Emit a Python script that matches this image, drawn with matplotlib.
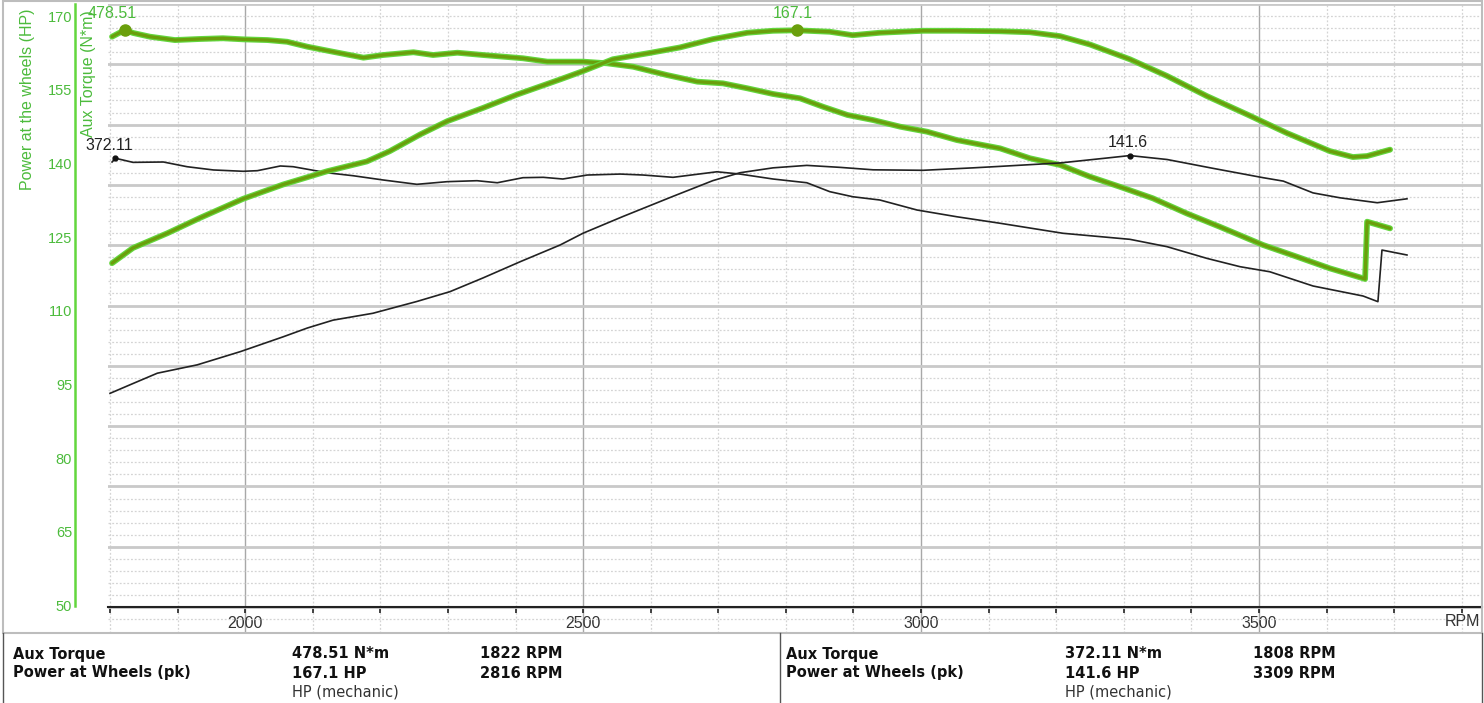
import numpy as np
import matplotlib
matplotlib.use("Agg")
import matplotlib.pyplot as plt
from matplotlib.lines import Line2D
from matplotlib.patches import Rectangle

# Run A (green): aux torque in N*m and power at wheels in HP, against RPM
rpm_tq_a = [1803, 1822, 1834, 1859, 1896, 1933, 1967, 1997, 2033, 2062, 2092, 2130,
            2175, 2204, 2249, 2278, 2314, 2352, 2411, 2447, 2500, 2536, 2574, 2624,
            2669, 2707, 2743, 2781, 2821, 2855, 2891, 2929, 2969, 3009, 3053, 3117,
            3161, 3206, 3250, 3294, 3343, 3393, 3442, 3506, 3556, 3605, 3654, 3657,
            3660, 3694]
tq_a = [472.9, 478.51, 476.0, 472.9, 470.1, 471.0, 471.6, 470.7, 470.1, 468.7, 464.6, 460.4,
        455.5, 457.7, 460.0, 457.7, 459.6, 457.7, 455.0, 452.2, 452.2, 450.8, 448.0, 441.1,
        435.6, 434.2, 430.1, 425.4, 421.8, 414.8, 408.0, 403.8, 398.3, 394.1, 387.2, 380.3,
        372.1, 366.5, 356.8, 348.5, 338.9, 326.4, 315.3, 300.2, 290.5, 280.8, 272.6, 272.0,
        319.5, 314.0]

rpm_hp_a = [1803, 1834, 1885, 1933, 1997, 2056, 2121, 2180, 2214, 2259, 2299, 2352,
            2402, 2466, 2500, 2544, 2599, 2643, 2692, 2743, 2781, 2816, 2865, 2899,
            2939, 3003, 3053, 3117, 3161, 3206, 3250, 3309, 3364, 3423, 3482, 3541,
            3605, 3639, 3660, 3694]
hp_a = [119.7, 122.8, 125.8, 128.9, 132.8, 135.7, 138.4, 140.4, 142.5, 145.9, 148.6, 151.3,
        154.0, 157.1, 158.8, 161.2, 162.5, 163.6, 165.3, 166.6, 167.0, 167.1, 166.8, 166.1,
        166.6, 167.0, 167.0, 166.9, 166.7, 165.9, 164.2, 161.2, 157.8, 153.7, 150.0, 146.2,
        142.5, 141.3, 141.5, 142.8]

# Run B (black)
rpm_tq_b = [1803, 1808, 1834, 1879, 1914, 1953, 1997, 2018, 2052, 2071, 2121, 2160,
            2204, 2254, 2299, 2343, 2373, 2411, 2441, 2470, 2506, 2555, 2589, 2633,
            2698, 2732, 2781, 2831, 2865, 2899, 2939, 2994, 3053, 3117, 3210, 3309,
            3364, 3423, 3472, 3516, 3580, 3654, 3676, 3682, 3719]
tq_b = [369.0, 372.11, 368.7, 369.0, 365.1, 362.4, 361.3, 361.8, 365.7, 365.1, 360.1, 357.6,
        354.1, 350.5, 352.7, 353.5, 351.8, 356.0, 356.3, 354.9, 358.2, 359.0, 358.2, 356.3,
        360.9, 359.0, 354.9, 351.8, 344.4, 340.2, 337.5, 329.2, 323.6, 318.2, 309.9, 304.9,
        298.8, 289.1, 282.2, 278.0, 266.2, 257.9, 253.2, 296.0, 291.9]

rpm_hp_b = [1800, 1834, 1870, 1929, 1993, 2056, 2092, 2130, 2189, 2254, 2303, 2352,
            2407, 2466, 2500, 2559, 2633, 2692, 2732, 2781, 2831, 2880, 2929, 3003,
            3077, 3117, 3206, 3275, 3309, 3364, 3432, 3506, 3536, 3580, 3620, 3675,
            3719]
hp_b = [93.2, 95.2, 97.3, 99.0, 101.7, 104.7, 106.5, 108.1, 109.5, 111.9, 113.9, 116.7,
        120.0, 123.4, 125.8, 129.2, 133.3, 136.5, 138.1, 139.1, 139.6, 139.2, 138.7, 138.6,
        139.1, 139.4, 140.1, 141.1, 141.6, 140.8, 139.0, 137.1, 136.4, 134.0, 133.0, 132.0,
        132.8]

# peak readouts (table below the chart)
peak_tq_a, peak_tq_a_rpm = 478.51, 1822
peak_hp_a, peak_hp_a_rpm = 167.1, 2816
peak_tq_b, peak_tq_b_rpm = 372.11, 1808
peak_hp_b, peak_hp_b_rpm = 141.6, 3309

hp_ticks = list(range(50, 171, 15))
rpm_labels = [2000, 2500, 3000, 3500]

W, H = 1484, 703
GREEN_EDGE = "#63d63d"
GREEN_CORE = "#6a9f0c"
GREEN_TXT = "#4cbb3c"


def px(x, y):
    # pixel position (from top left) -> figure fraction
    return x / W, 1 - y / H


fig = plt.figure(figsize=(W / 100, H / 100), dpi=100)
ax = fig.add_axes([108 / W, (H - 633) / H, (1482 - 108) / W, (633 - 4) / H])
ax.set_xlim(1797, 3830)
ax.set_ylim(-21.5, 500)

# HP axis on the left (twinx resets the left ticks of ax, so it comes first)
ax2 = ax.twinx()
ax2.set_ylim(44.42, 172.45)

# grid
ax.set_yticks(np.arange(0, 501, 50))
ax.set_yticks(np.arange(-10, 501, 10), minor=True)
ax.set_xticks(rpm_labels)
ax.set_xticks(np.arange(1800, 3801, 100), minor=True)
ax.grid(which="major", axis="y", color="#c9c9c9", lw=2.0, ls="-")
ax.grid(which="minor", axis="y", color="#d4d4d4", lw=0.9, ls=(0, (1.5, 1.5)))
ax.grid(which="major", axis="x", color="#a8a8a8", lw=1.0, ls="-")
ax.grid(which="minor", axis="x", color="#d4d4d4", lw=0.9, ls=(0, (1.5, 1.5)))
ax.set_axisbelow(True)

for s in ["top", "left", "right"]:
    ax.spines[s].set_visible(False)
ax.spines["bottom"].set_position(("data", 0))
ax.spines["bottom"].set_linewidth(1.5)
ax.spines["bottom"].set_color("#222222")
ax.tick_params(axis="y", which="both", left=False, right=False,
               labelleft=False, labelright=False)
ax.tick_params(axis="x", which="both", direction="out", length=4, width=1.2,
               color="#222222", pad=2.5, labelsize=11.5, labelcolor="#333333")
ax.set_xticklabels([str(r) for r in rpm_labels], family="Liberation Sans")

for s in ["top", "right", "bottom"]:
    ax2.spines[s].set_visible(False)
ax2.spines["left"].set_visible(True)
ax2.spines["left"].set_position(("axes", (75 - 108) / 1374))
ax2.spines["left"].set_bounds(50, 172.45)
ax2.spines["left"].set_color(GREEN_EDGE)
ax2.spines["left"].set_linewidth(1.8)
ax2.yaxis.set_ticks_position("left")
ax2.set_yticks(hp_ticks)
ax2.tick_params(axis="y", which="both", length=0, pad=2, labelsize=10.5,
                labelcolor=GREEN_TXT)
for lab in ax2.get_yticklabels():
    lab.set_family("Liberation Sans")

# curves
ax.plot(rpm_tq_b, tq_b, color="#222222", lw=1.2, zorder=3)
ax2.plot(rpm_hp_b, hp_b, color="#222222", lw=1.2, zorder=3)
for xs, ys, a in [(rpm_tq_a, tq_a, ax), (rpm_hp_a, hp_a, ax2)]:
    a.plot(xs, ys, color=GREEN_EDGE, lw=4.2, solid_capstyle="round", zorder=4)
    a.plot(xs, ys, color=GREEN_CORE, lw=2.4, solid_capstyle="round", zorder=5)

# peak markers + labels
ax.plot([peak_tq_a_rpm], [peak_tq_a], "o", ms=8, color=GREEN_CORE, zorder=6)
ax2.plot([peak_hp_a_rpm], [peak_hp_a], "o", ms=8, color=GREEN_CORE, zorder=6)
ax.plot([peak_tq_b_rpm], [peak_tq_b], "o", ms=3.5, color="#111111", zorder=6)
ax2.plot([peak_hp_b_rpm], [peak_hp_b], "o", ms=3.5, color="#111111", zorder=6)

lab_kw = dict(textcoords="offset points", ha="center", va="center",
              fontsize=11.5, family="Liberation Sans", zorder=7)
ax.annotate(f"{peak_tq_a:.2f}", xy=(peak_tq_a_rpm, peak_tq_a), xytext=(-9, 11.5),
            color=GREEN_TXT, **lab_kw)
ax2.annotate(f"{peak_hp_a:.1f}", xy=(peak_hp_a_rpm, peak_hp_a), xytext=(-3, 12),
             color=GREEN_TXT, **lab_kw)
ax.annotate(f"{peak_tq_b:.2f}", xy=(peak_tq_b_rpm, peak_tq_b), xytext=(-4.5, 9.5),
            color="#222222", **lab_kw)
ax2.annotate(f"{peak_hp_b:.1f}", xy=(peak_hp_b_rpm, peak_hp_b), xytext=(-1.5, 9.5),
             color="#222222", **lab_kw)

# axis titles
fig.text(*px(28, 8), "Power at the wheels (HP)", rotation=90, ha="center", va="top",
         color=GREEN_TXT, fontsize=11.5, family="Liberation Sans")
fig.text(*px(88, 10), "Aux Torque (N*m)", rotation=90, ha="center", va="top",
         color=GREEN_TXT, fontsize=11.5, family="Liberation Sans")
fig.text(*px(1462, 622), "RPM", ha="center", va="center", color="#333333",
         fontsize=11.5, family="Liberation Sans")

# frame and readout table
fig.add_artist(Rectangle(px(3, 633), (1482 - 3) / W, (633 - 1) / H, transform=fig.transFigure,
                         fill=False, edgecolor="#bdbdbd", lw=1.5))
for (x0, y0), (x1, y1) in [((3, 633), (3, 703)), ((780, 633), (780, 703)),
                           ((1482, 633), (1482, 703))]:
    fig.add_artist(Line2D([x0 / W, x1 / W], [1 - y0 / H, 1 - y1 / H],
                          transform=fig.transFigure, color="#555555", lw=1.0))

tb_kw = dict(ha="left", va="center", fontsize=10.5, family="DejaVu Sans", color="#111111")
for x_off, tq, tq_rpm, hp, hp_rpm in [(0, peak_tq_a, peak_tq_a_rpm, peak_hp_a, peak_hp_a_rpm),
                                      (773, peak_tq_b, peak_tq_b_rpm, peak_hp_b, peak_hp_b_rpm)]:
    fig.text(*px(13 + x_off, 654), "Aux Torque", weight="bold", **tb_kw)
    fig.text(*px(13 + x_off, 673), "Power at Wheels (pk)", weight="bold", **tb_kw)
    fig.text(*px(292 + x_off, 654), f"{tq:.2f} N*m", weight="bold", **tb_kw)
    fig.text(*px(292 + x_off, 673), f"{hp:.1f} HP", weight="bold", **tb_kw)
    fig.text(*px(292 + x_off, 692), "HP (mechanic)", **{**tb_kw, "color": "#333333"})
    fig.text(*px(480 + x_off, 654), f"{tq_rpm} RPM", weight="bold", **tb_kw)
    fig.text(*px(480 + x_off, 673), f"{hp_rpm} RPM", weight="bold", **tb_kw)

fig.savefig("out.png", dpi=100)
